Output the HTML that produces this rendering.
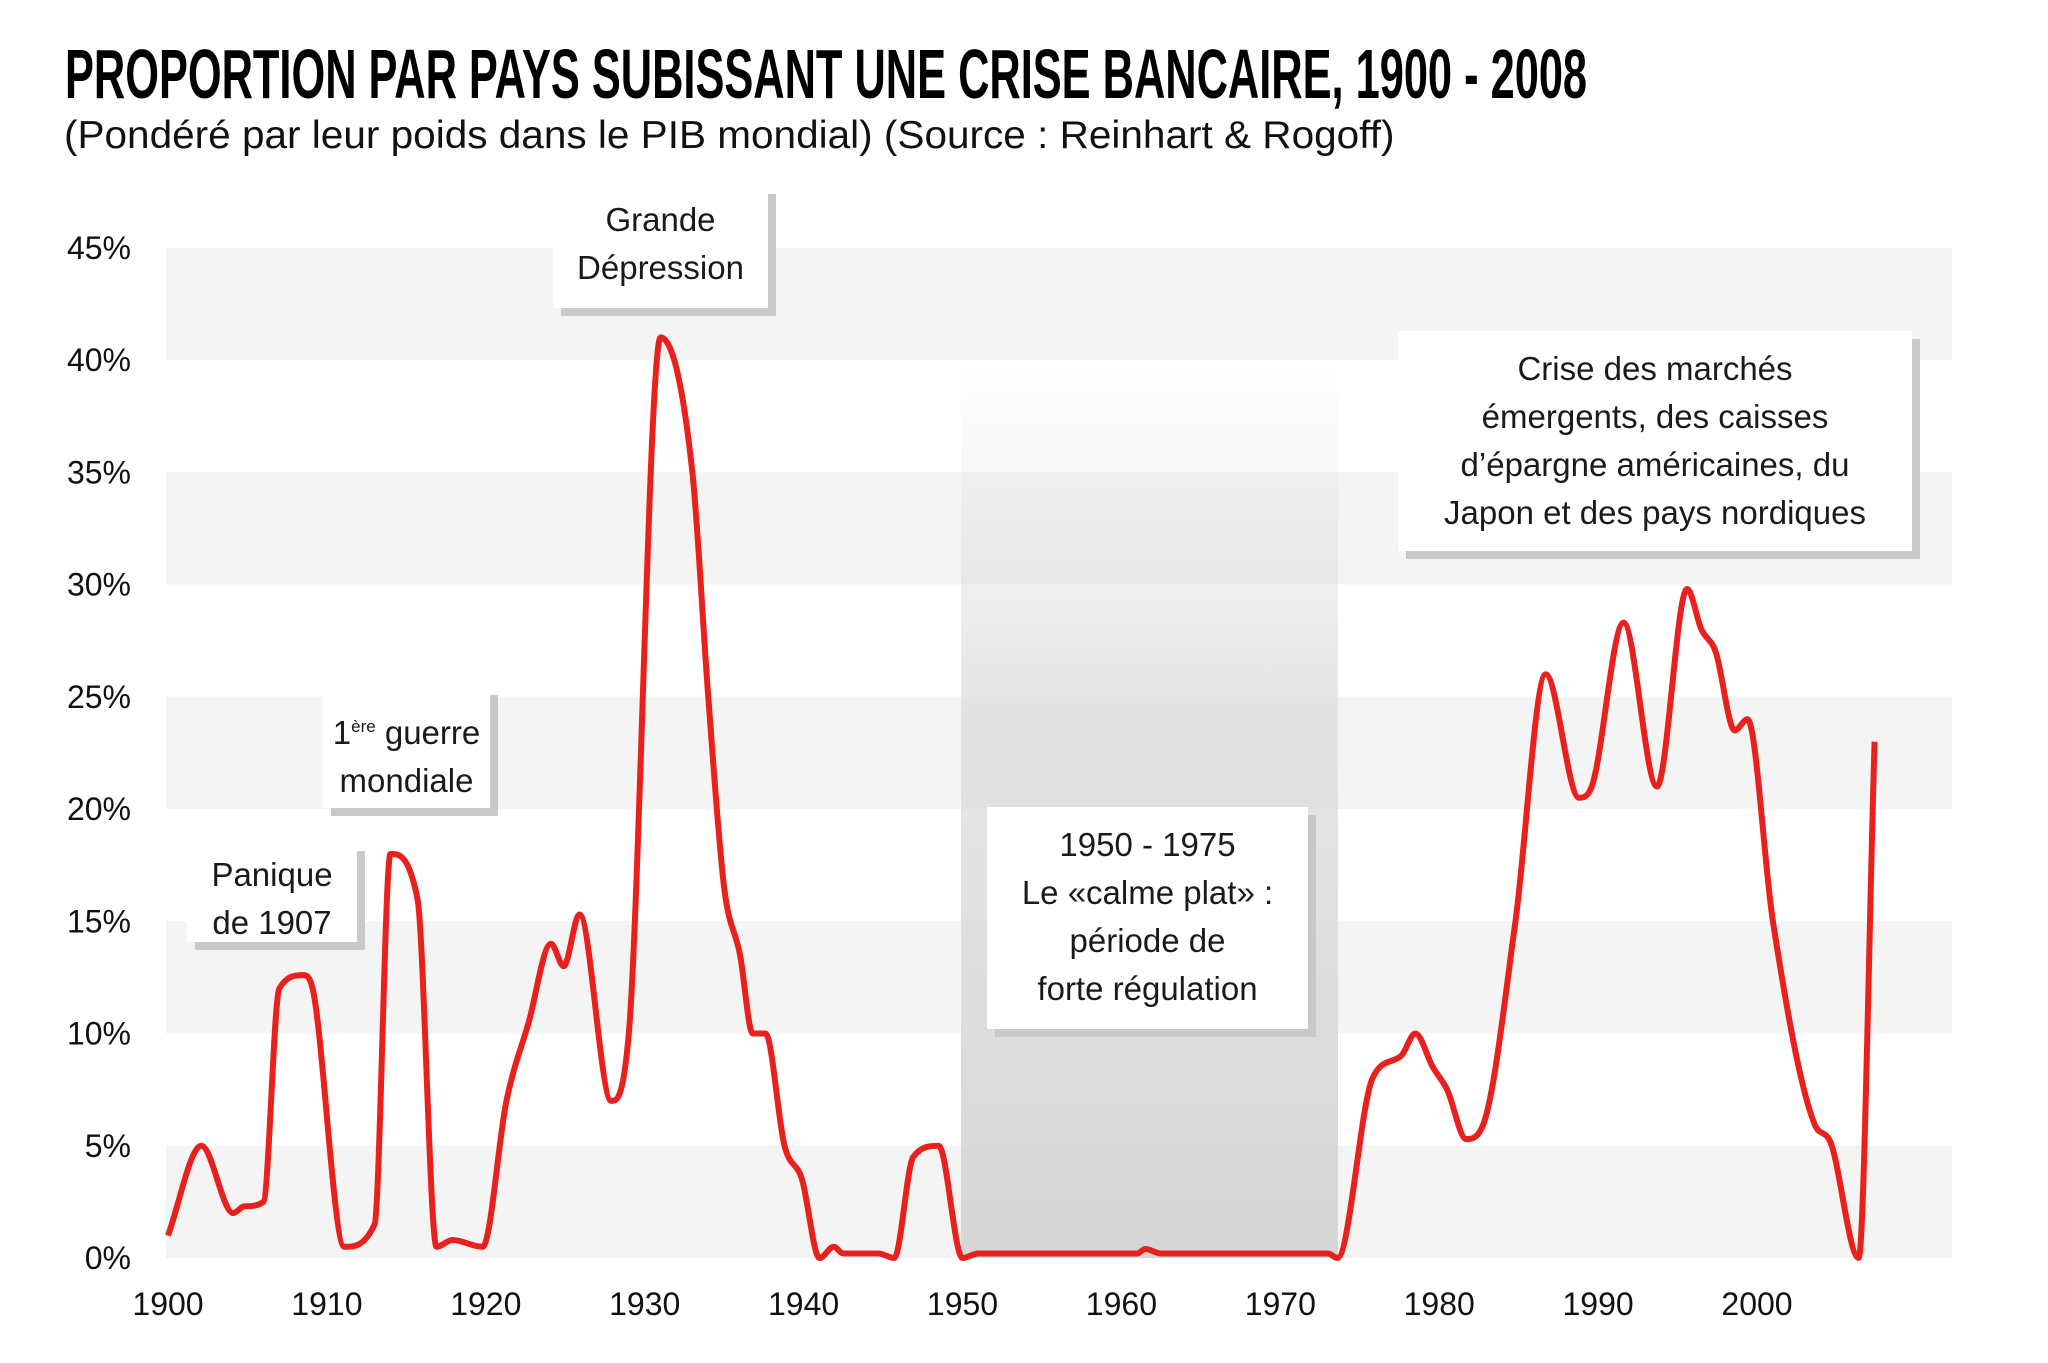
<!DOCTYPE html>
<html><head><meta charset="utf-8"><style>
body{margin:0;background:#fff;}
#c{position:relative;width:2048px;height:1363px;overflow:hidden;font-family:"Liberation Sans",sans-serif;color:#111;}
.t{position:absolute;white-space:nowrap;transform-origin:0 0;}
.box{position:absolute;background:#fff;box-shadow:8px 8px 0 #c9c9c9;text-align:center;font-size:33px;line-height:48px;color:#1a1a1a;box-sizing:border-box;}
</style></head><body><div id="c">
<svg id="s" width="2048" height="1363" style="position:absolute;left:0;top:0">
<defs><linearGradient id="g" x1="0" y1="0" x2="0" y2="1"><stop offset="0" stop-color="#d8d8d8" stop-opacity="0"/><stop offset="0.35" stop-color="#d8d8d8" stop-opacity="0.6"/><stop offset="1" stop-color="#d6d6d6"/></linearGradient></defs>
<g id="bands" fill="#f4f4f4"></g>
<rect x="961" y="366" width="377" height="892" fill="url(#g)"/>
<g id="lab" font-family="Liberation Sans" font-size="32" fill="#111"></g>
<path id="p" fill="none" stroke="#e8211f" stroke-width="6" stroke-linejoin="round"/>
</svg>
<div class="t" id="ti" style="left:65px;top:34px;font-size:70px;font-weight:bold;color:#000;">PROPORTION PAR PAYS SUBISSANT UNE CRISE BANCAIRE, 1900 - 2008</div>
<div class="t" id="su" style="left:64px;top:114px;font-size:39px;color:#111;">(Pondéré par leur poids dans le PIB mondial) (Source : Reinhart &amp; Rogoff)</div>
<div class="box" style="left:187px;top:843px;width:170px;height:99px;padding-top:8px">Panique<br>de 1907</div>
<div class="box" style="left:323px;top:687px;width:167px;height:121px;padding-top:16px">1<sup style="font-size:17px">ère</sup> guerre<br>mondiale</div>
<div class="box" style="left:553px;top:186px;width:215px;height:122px;padding-top:10px">Grande<br>Dépression</div>
<div class="box" style="left:987px;top:807px;width:321px;height:222px;padding-top:14px">1950 - 1975<br>Le «calme plat» :<br>période de<br>forte régulation</div>
<div class="box" style="left:1398px;top:331px;width:514px;height:220px;padding-top:14px">Crise des marchés<br>émergents, des caisses<br>d’épargne américaines, du<br>Japon et des pays nordiques</div>
</div>
<script>
var X=y=>168+(y-1900)*15.89, Y=v=>1258-v*22.45;
var ns="http://www.w3.org/2000/svg",b=document.getElementById('bands'),l=document.getElementById('lab');
for(var k=0;k<5;k++){var r=document.createElementNS(ns,'rect');r.setAttribute('x',166);r.setAttribute('width',1786);r.setAttribute('y',Y(k*10+5));r.setAttribute('height',112.25);b.appendChild(r);}
for(var v=0;v<=45;v+=5){var t=document.createElementNS(ns,'text');t.setAttribute('x',131);t.setAttribute('y',Y(v)+11);t.setAttribute('text-anchor','end');t.textContent=v+'%';l.appendChild(t);}
for(var yr=1900;yr<=2000;yr+=10){var t=document.createElementNS(ns,'text');t.setAttribute('x',X(yr));t.setAttribute('y',1315);t.setAttribute('text-anchor','middle');t.textContent=yr;l.appendChild(t);}
var d=[[1900,1],[1902.1,5],[1904.1,2],[1904.8,2.3],[1906,2.5],[1907,12],[1908.5,12.6],[1909.1,12],[1911.1,0.5],[1913,1.5],[1914,18],[1915.7,16],[1916.9,0.5],[1917.9,0.8],[1919.8,0.5],[1921.3,7],[1922.7,10.5],[1924.1,14],[1924.9,13],[1925.9,15.3],[1927.9,7],[1929,10],[1931,41],[1933,35],[1934,25],[1935,16.5],[1936,13.5],[1936.8,10],[1937.6,10],[1938.8,5],[1939.9,3.5],[1941,0],[1941.9,0.5],[1942.5,0.2],[1944.7,0.2],[1945.7,0],[1946.9,4.5],[1948.5,5],[1950,0],[1951,0.2],[1961,0.2],[1961.5,0.4],[1962.5,0.2],[1973,0.2],[1973.6,0],[1975.8,8],[1977.6,9],[1978.5,10],[1979.6,8.5],[1980.5,7.5],[1981.7,5.3],[1982.8,6],[1984.8,15],[1986.7,26],[1988.8,20.5],[1989.6,21],[1991.6,28.3],[1993.7,21],[1995.6,29.8],[1996.5,28],[1997.4,27],[1998.6,23.5],[1999.4,24],[2001,15],[2003.6,6],[2004.6,5.2],[2006.4,0],[2007.4,23]];
var P=d.map(p=>[X(p[0]),Y(p[1])]),n=P.length,m=[],dl=[];
for(var i=0;i<n-1;i++)dl.push((P[i+1][1]-P[i][1])/(P[i+1][0]-P[i][0]));
m[0]=dl[0];m[n-1]=dl[n-2];
for(var i=1;i<n-1;i++){m[i]=(dl[i-1]*dl[i]<=0)?0:(dl[i-1]+dl[i])/2;}
for(var i=0;i<n-1;i++){if(dl[i]==0){m[i]=m[i+1]=0;continue;}var a=m[i]/dl[i],bb=m[i+1]/dl[i],h=a*a+bb*bb;if(h>9){var tt=3/Math.sqrt(h);m[i]=tt*a*dl[i];m[i+1]=tt*bb*dl[i];}}
var s='M'+P[0];
for(var i=0;i<n-1;i++){var h=(P[i+1][0]-P[i][0])/3;s+=' C'+(P[i][0]+h)+','+(P[i][1]+m[i]*h)+' '+(P[i+1][0]-h)+','+(P[i+1][1]-m[i+1]*h)+' '+P[i+1][0]+','+P[i+1][1];}
document.getElementById('p').setAttribute('d',s);
function fit(id,w){var e=document.getElementById(id);e.style.transform='scaleX('+(w/e.offsetWidth)+')';}
fit('ti',1522);fit('su',1330);
</script>
</body></html>
